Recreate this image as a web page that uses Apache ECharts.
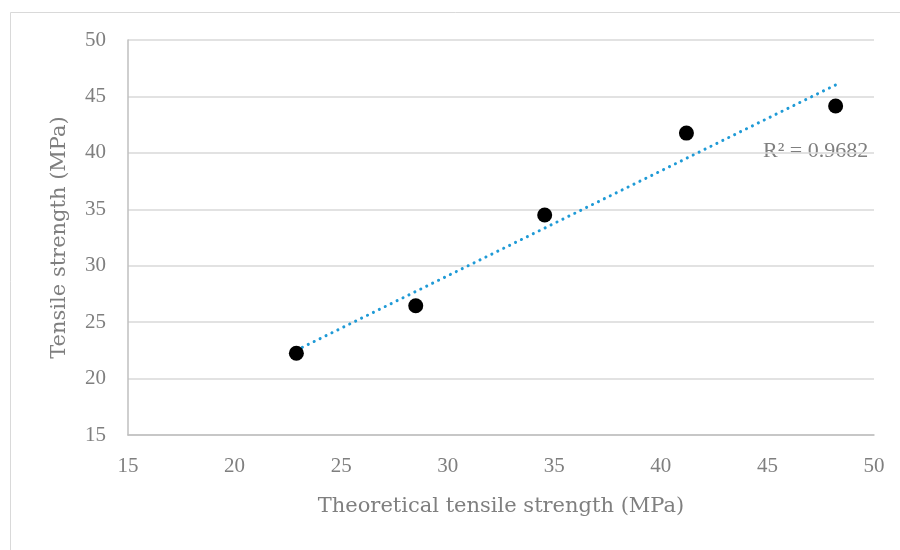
<!DOCTYPE html>
<html>
<head>
<meta charset="utf-8">
<script src="https://cdn.jsdelivr.net/npm/echarts@6/dist/echarts.min.js"></script>
<style>html,body{margin:0;padding:0;background:#fff}#c{width:900px;height:550px}</style>
</head>
<body>
<div id="c"></div>
<script>
const theoretical = [22.9, 28.5, 34.55, 41.2, 48.2];
const measured = [22.25, 26.45, 34.5, 41.75, 44.15];
const xTicks = [15, 20, 25, 30, 35, 40, 45, 50];
const yTicks = [15, 20, 25, 30, 35, 40, 45, 50];
const r2Text = 'R² = 0.9682';
const xTitle = 'Theoretical tensile strength (MPa)';
const yTitle = 'Tensile strength (MPa)';

// linear trendline (least squares), as Excel does
const n = theoretical.length;
const mx = theoretical.reduce((a, b) => a + b, 0) / n;
const my = measured.reduce((a, b) => a + b, 0) / n;
let sxy = 0, sxx = 0;
for (let i = 0; i < n; i++) { sxy += (theoretical[i] - mx) * (measured[i] - my); sxx += (theoretical[i] - mx) ** 2; }
const slope = sxy / sxx, icpt = my - slope * mx;
const xMin = Math.min(...theoretical), xMax = Math.max(...theoretical);
const trend = [[xMin, icpt + slope * xMin], [xMax, icpt + slope * xMax]];

const font = '"Liberation Serif", "DejaVu Serif", serif';
const titleFont = '"DejaVu Serif", serif';
const gray = '#7f7f7f';
const chart = echarts.init(document.getElementById('c'));
chart.setOption({
  backgroundColor: '#fff',
  animation: false,
  textStyle: { fontFamily: font },
  graphic: [
    { type: 'rect', shape: { x: 10.5, y: 12.5, width: 900, height: 560 }, style: { fill: 'none', stroke: '#d9d9d9', lineWidth: 1 } },
    { type: 'text', left: 763, top: 140, style: { text: r2Text, font: '22px ' + font, fill: gray } }
  ],
  grid: { left: 128, right: 26, top: 40, bottom: 115 },
  xAxis: {
    type: 'value', min: xTicks[0], max: xTicks[xTicks.length - 1], interval: 5,
    name: xTitle, nameLocation: 'middle', nameGap: 61,
    nameTextStyle: { fontSize: 21, color: gray, fontFamily: titleFont },
    axisLine: { show: true, lineStyle: { color: '#bfbfbf', width: 1.5 } },
    axisTick: { show: false },
    splitLine: { show: false },
    axisLabel: { fontSize: 21, color: gray, margin: 21, fontFamily: font }
  },
  yAxis: {
    type: 'value', min: yTicks[0], max: yTicks[yTicks.length - 1], interval: 5,
    name: yTitle, nameLocation: 'middle', nameGap: 58,
    nameTextStyle: { fontSize: 21, color: gray, fontFamily: titleFont },
    axisLine: { show: true, lineStyle: { color: '#bfbfbf', width: 1.5 } },
    axisTick: { show: false },
    splitLine: { show: true, lineStyle: { color: '#d9d9d9', width: 1.5 } },
    axisLabel: { fontSize: 21, color: gray, margin: 22, fontFamily: font }
  },
  series: [
    {
      type: 'line', data: trend, showSymbol: false, symbol: 'none', z: 2,
      lineStyle: { color: '#1f9ad6', width: 3, type: [0.1, 6.5], cap: 'round' }
    },
    {
      type: 'scatter', data: theoretical.map((x, i) => [x, measured[i]]),
      symbolSize: 15, z: 3,
      itemStyle: { color: '#000', opacity: 1 }
    }
  ]
});
</script>
</body>
</html>
